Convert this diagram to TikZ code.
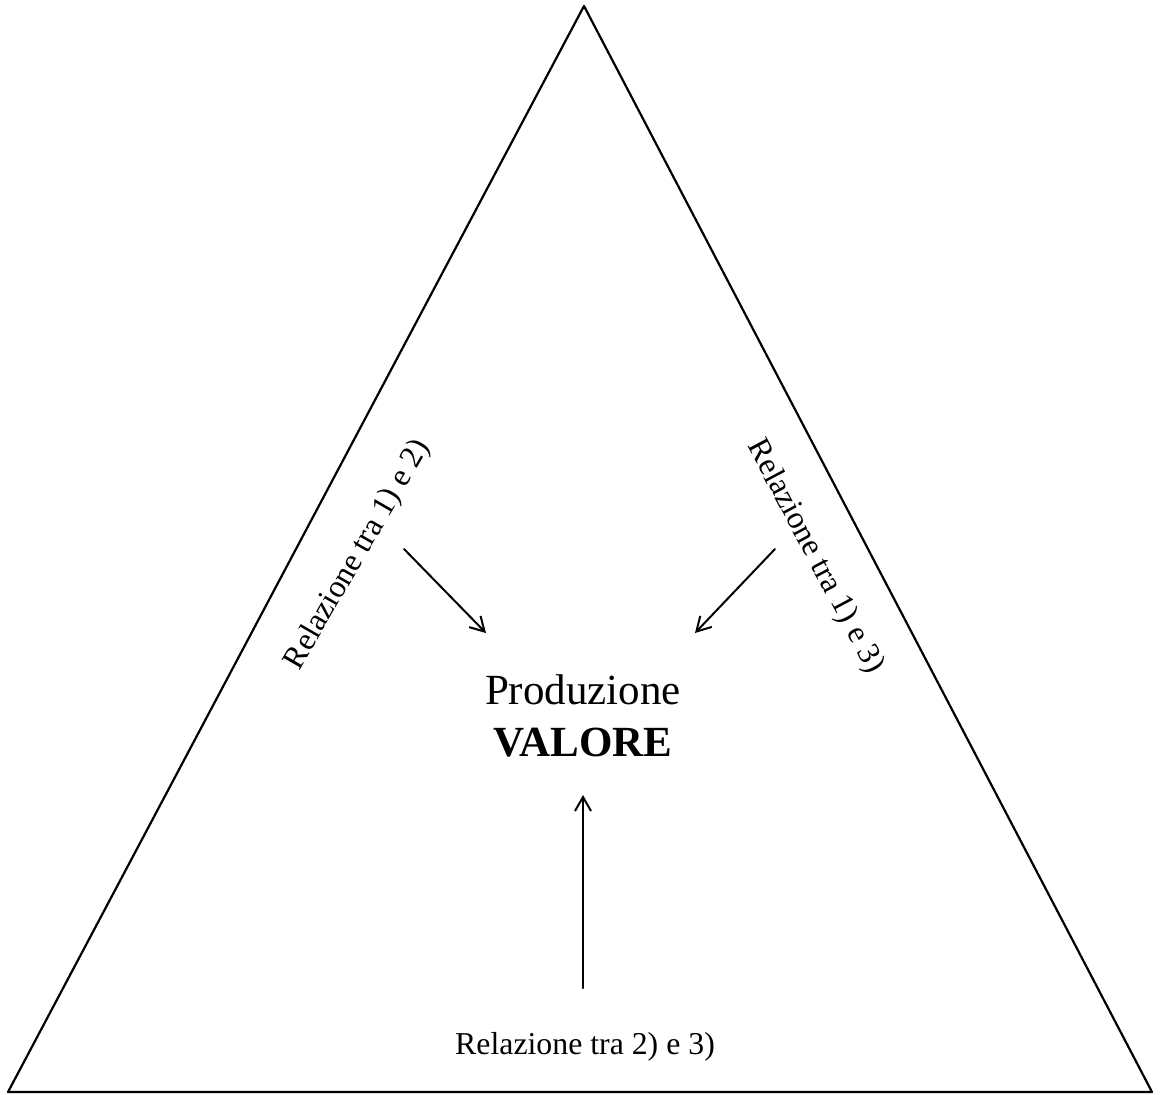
\documentclass[tikz,border=0pt]{standalone}
\usepackage{fontspec}
\setmainfont{Liberation Serif}
\usetikzlibrary{arrows.meta}

\begin{document}
\begin{tikzpicture}[line cap=round,line join=round,x=0.5pt,y=0.5pt,
    freccia/.style={line width=1pt,-{Straight Barb[length=7pt,width=8pt,line width=1pt]}},
    etichetta/.style={font=\fontsize{15.9}{19}\selectfont,inner sep=0pt}]
		\useasboundingbox (0,0) rectangle (1160,1094);
		\coordinate (apice) at (584,1088);
		\coordinate (basesx) at (8,2);
		\coordinate (basedx) at (1152,2);
		\draw [line width=1.1pt] (basesx) -- (apice) -- (basedx) -- cycle;
		\node [align=center,inner sep=0pt,font=\fontsize{21.5}{26}\selectfont] (valore) at (583,378) {Produzione\\\textbf{VALORE}};
		\node [etichetta,rotate=60] (rel12) at (358,539) {Relazione tra 1) e 2)};
		\node [etichetta,rotate=-62] (rel13) at (815,537) {Relazione tra 1) e 3)};
		\node [etichetta] (rel23) at (585,47) {Relazione tra 2) e 3)};
		\coordinate (da12) at (404,545);
		\coordinate (a12) at (486,461);
		\coordinate (da13) at (775,545);
		\coordinate (a13) at (695,461);
		\coordinate (da23) at (583,106);
		\coordinate (a23) at (583,299);
		\draw [freccia] (da12) -- (a12);
		\draw [freccia] (da13) -- (a13);
		\draw [freccia] (da23) -- (a23);
\end{tikzpicture}
\end{document}
